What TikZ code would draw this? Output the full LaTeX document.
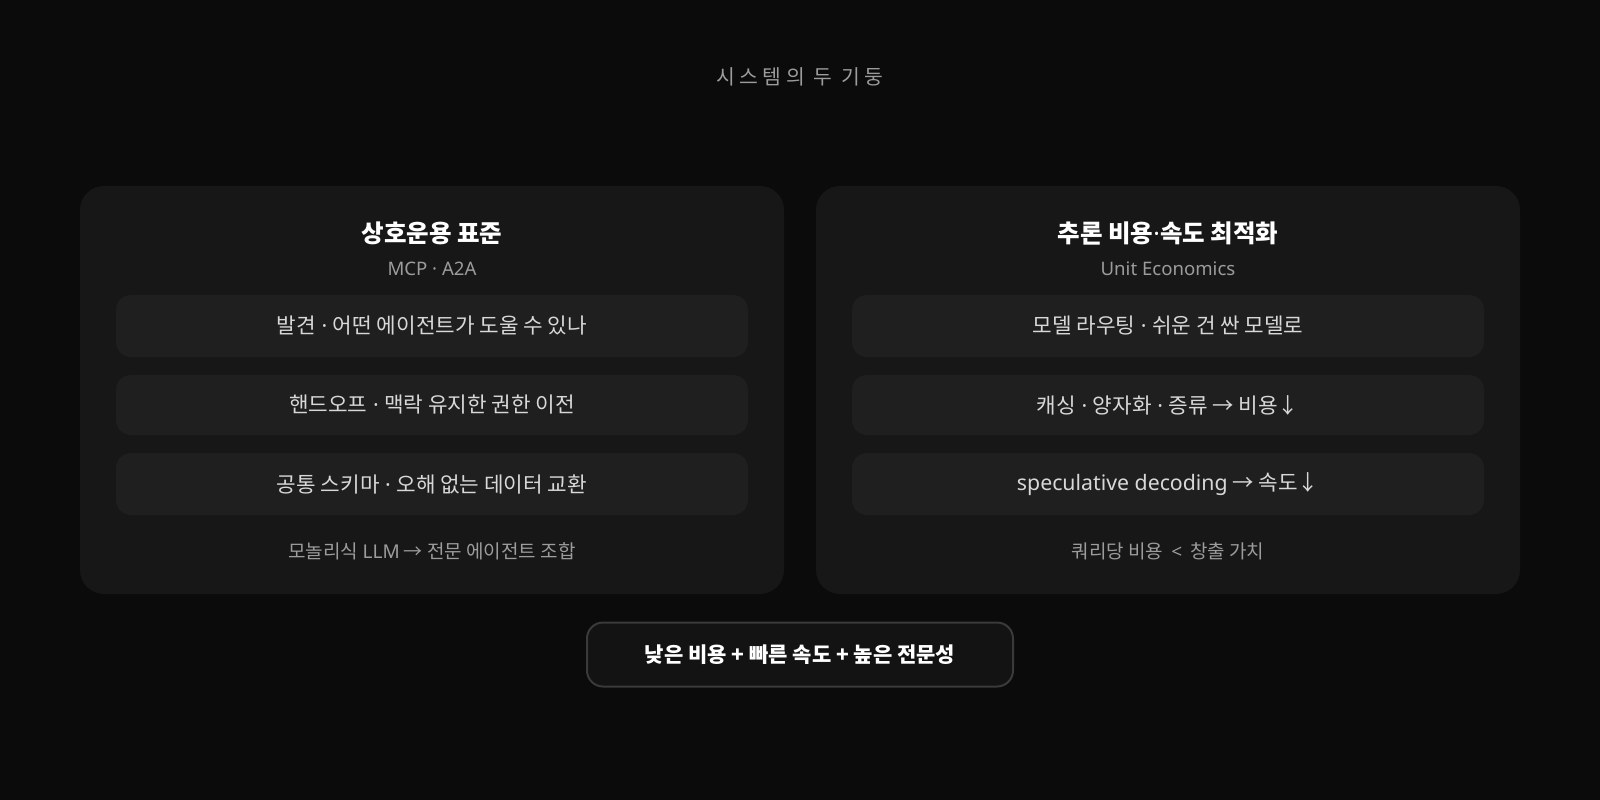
\documentclass[tikz,border=0pt]{standalone}
\usepackage{fontspec}
\setmainfont{Noto Sans CJK KR}
\newfontfamily\kr{Noto Sans CJK KR}
\newfontfamily\la{Noto Sans}
\newfontfamily\krspaced[LetterSpace=22]{Noto Sans CJK KR}
\newcommand\sepdot{{\la{} · }}
\definecolor{bg}{HTML}{0B0B0B}
\definecolor{card}{HTML}{171717}
\definecolor{inner}{HTML}{1F1F1F}
\definecolor{bottomfill}{HTML}{131313}
\definecolor{bottomline}{HTML}{3A3A3A}
\definecolor{txtmain}{HTML}{D8D8D8}
\definecolor{txtgray}{HTML}{9C9C9C}
\tikzset{
  cardbox/.style={fill=card, rounded corners=24pt, draw=none},
  innerbox/.style={fill=inner, rounded corners=15pt, draw=none, minimum width=632pt, inner sep=0pt, text=txtmain, font=\kr\fontsize{21.3}{25}\selectfont},
  cardtitle/.style={text=white, font=\kr\bfseries\fontsize{24.5}{28}\selectfont, inner sep=0pt},
  cardsub/.style={text=txtgray, font=\la\fontsize{18.6}{22}\selectfont, inner sep=0pt},
  cardfoot/.style={text=txtgray, font=\kr\fontsize{19}{23}\selectfont, inner sep=0pt},
}
\begin{document}
\begin{tikzpicture}[x=1pt, y=-1pt]
\useasboundingbox (0,0) rectangle (1600,800);
\fill[bg] (0,0) rectangle (1600,800);

\node[text=txtgray, font=\krspaced\fontsize{20.4}{24}\selectfont, inner sep=0pt] (title) at (800,76.5) {시스템의 두 기둥};

% left card
\fill[cardbox] (80,186) rectangle (784,594);
\node[cardtitle] (lt) at (432,233.5) {상호운용 표준};
\node[cardsub] (ls) at (432,268.5) {MCP · A2A};
\node[innerbox, minimum height=62pt] (l1) at (432,326) {발견\sepdot 어떤 에이전트가 도울 수 있나};
\node[innerbox, minimum height=60pt] (l2) at (432,405) {핸드오프\sepdot 맥락 유지한 권한 이전};
\node[innerbox, minimum height=62pt] (l3) at (432,484) {공통 스키마\sepdot 오해 없는 데이터 교환};
\node[cardfoot] (lf) at (432,551) {모놀리식 {\la LLM} → 전문 에이전트 조합};

% right card
\fill[cardbox] (816,186) rectangle (1520,594);
\node[cardtitle] (rt) at (1168,233.5) {추론 비용{\la\bfseries ·}속도 최적화};
\node[cardsub] (rs) at (1168,268.5) {Unit Economics};
\node[innerbox, minimum height=62pt] (r1) at (1168,326) {모델 라우팅\sepdot 쉬운 건 싼 모델로};
\node[innerbox, minimum height=60pt] (r2) at (1168,405) {캐싱\sepdot 양자화\sepdot 증류 → 비용↓};
\node[innerbox, minimum height=62pt] (r3) at (1168,484) {{\la speculative decoding} → 속도↓};
\node[cardfoot] (rf) at (1168,551) {쿼리당 비용{\la\ \hspace{3pt}<\hspace{3pt}\ }창출 가치};

% bottom
\node[fill=bottomfill, draw=bottomline, line width=2pt, rounded corners=16pt, minimum width=426pt, minimum height=64pt, inner sep=0pt, text=white, font=\kr\bfseries\fontsize{21}{25}\selectfont] (bot) at (800,654.5) {낮은 비용 + 빠른 속도 + 높은 전문성};
\end{tikzpicture}
\end{document}
